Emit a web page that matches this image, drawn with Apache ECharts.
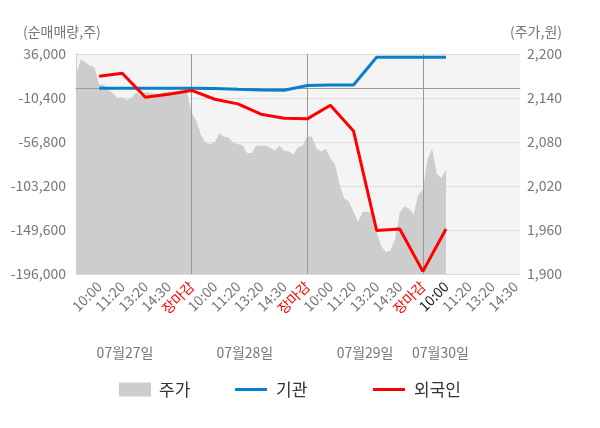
<!DOCTYPE html>
<html>
<head>
<meta charset="utf-8">
<script src="https://cdn.jsdelivr.net/npm/echarts@6/dist/echarts.min.js"></script>
<style>
html, body { margin: 0; padding: 0; background: #fff; }
#chart { width: 600px; height: 428px; }
</style>
</head>
<body>
<div id="chart"></div>
<script>
// 하루 5칸 시간 라벨
var timeLabels = ['10:00', '11:20', '13:20', '14:30', '장마감'];
var dayLabels = ['07월27일', '07월28일', '07월29일', '07월30일'];

// 주가 (원), 0.2칸 간격
var priceStep = 0.2;
var priceData = [
    2170, 2192, 2189, 2184, 2182,
    2158, 2158, 2151, 2146, 2140,
    2141, 2137, 2140, 2147, 2143,
    2148, 2147, 2146, 2145, 2148,
    2149, 2148, 2150, 2150, 2148,
    2120, 2109, 2090, 2079, 2077,
    2080, 2092, 2087, 2086, 2079,
    2077, 2076, 2065, 2065, 2075,
    2075, 2075, 2072, 2068, 2075,
    2068, 2067, 2063, 2073, 2075,
    2088, 2087, 2071, 2067, 2071,
    2057, 2050, 2022, 2003, 1999,
    1985, 1971, 1985, 1985, 1984,
    1958, 1938, 1930, 1932, 1948,
    1984, 1992, 1989, 1981, 2008,
    2015, 2056, 2071, 2037, 2031,
    2042
];

// 누적 순매매량 (주), 1칸부터
var instData = [-200, -200, -200, -200, -200, -300, -1200, -1900, -2200, 2800, 3200, 3300, 32500, 32500, 32500, 32500];
var foreignData = [12500, 15700, -9600, -6400, -2400, -11700, -16600, -27500, -31700, -32400, -18000, -45100, -150100, -148600, -193200, -148600];

function commas(v) {
    return String(v).replace(/\B(?=(\d{3})+(?!\d))/g, ',');
}

var chart = echarts.init(document.getElementById('chart'));
var option = {
    animation: false,
    textStyle: { fontFamily: 'Noto Sans CJK KR' },
    grid: {
        left: 76, right: 80, top: 54, bottom: 154,
        show: true, backgroundColor: '#f4f4f4', borderWidth: 0
    },
    // 축 단위
    graphic: [{
        type: 'text', left: 23, top: 25,
        style: { text: '(순매매량,주)', fill: '#777', fontSize: 14, fontFamily: 'Noto Sans CJK KR' }
    }, {
        type: 'text', right: 38, top: 25,
        style: { text: '(주가,원)', fill: '#777', fontSize: 14, fontFamily: 'Noto Sans CJK KR' }
    }],
    xAxis: [{
        type: 'value',
        min: 0, max: 19.2, interval: 1,
        axisLine: { lineStyle: { color: '#999' } },
        axisTick: { customValues: [0, 5, 10, 15], length: 5, lineStyle: { color: '#999' } },
        splitLine: { show: false },
        axisLabel: {
            rotate: 45, fontSize: 14, color: '#777', margin: 10,
            formatter: function(v) {
                if(v <= 0 || v % 1 != 0) return '';
                var t = timeLabels[(v - 1) % 5];
                if(t == '장마감') return '{c|' + t + '}';
                if(v == foreignData.length) return '{d|' + t + '}';
                return t;
            },
            rich: {
                c: { color: '#ff0000', fontSize: 14 },
                d: { color: '#222', fontSize: 14 }
            }
        }
    }, {
        type: 'value',
        min: 0, max: 19.2,
        position: 'bottom', offset: 64,
        axisLine: { show: false },
        axisTick: { show: false },
        splitLine: { show: false },
        axisLabel: {
            fontSize: 14, color: '#777', margin: 8,
            customValues: [2.12, 7.3, 12.5, 15.76],
            formatter: function(v) {
                var pos = [2.12, 7.3, 12.5, 15.76];
                return dayLabels[pos.indexOf(v)] || '';
            }
        }
    }],
    yAxis: [{
        type: 'value',
        min: -196000, max: 36000, interval: 46400,
        axisLine: { show: true, lineStyle: { color: '#999' } },
        axisTick: { show: false },
        splitLine: { lineStyle: { color: '#dcdcdc' } },
        axisLabel: { fontSize: 14, color: '#777', margin: 10, formatter: commas }
    }, {
        type: 'value', position: 'right',
        min: 1900, max: 2200, interval: 60,
        axisLine: { show: true, lineStyle: { color: '#ccc' } },
        axisTick: { show: false },
        splitLine: { show: false },
        axisLabel: { fontSize: 14, color: '#777', margin: 7, formatter: commas }
    }],
    legend: [{
        data: [{ name: '주가', icon: 'rect' }],
        left: 114, top: 376, itemWidth: 32, itemHeight: 14,
        textStyle: { fontSize: 17, color: '#333', padding: [0, 0, 0, 3] }
    }, {
        data: [{ name: '기관', icon: 'rect' }],
        left: 230, top: 376, itemWidth: 32, itemHeight: 3,
        textStyle: { fontSize: 17, color: '#333', padding: [0, 0, 0, 4] }
    }, {
        data: [{ name: '외국인', icon: 'rect' }],
        left: 368, top: 376, itemWidth: 32, itemHeight: 3,
        textStyle: { fontSize: 17, color: '#333', padding: [0, 0, 0, 4] }
    }],
    series: [{
        name: '주가',
        type: 'line',
        xAxisIndex: 0, yAxisIndex: 1,
        data: priceData.map(function(p, i) { return [i * priceStep, p]; }),
        showSymbol: false,
        color: '#cdcdcd',
        lineStyle: { width: 0 },
        areaStyle: { color: '#cdcdcd', origin: 'start', opacity: 1 },
        z: 1,
        markLine: {
            silent: true, symbol: 'none', z: 3,
            label: { show: false },
            lineStyle: { color: '#999', width: 1, type: 'solid' },
            data: [{ xAxis: 5 }, { xAxis: 10 }, { xAxis: 15 }]
        }
    }, {
        name: '기관',
        type: 'line',
        xAxisIndex: 0, yAxisIndex: 0,
        data: instData.map(function(v, i) { return [i + 1, v]; }),
        showSymbol: false,
        color: '#0a7fcb',
        lineStyle: { width: 3 },
        z: 10,
        markLine: {
            silent: true, symbol: 'none', z: 3,
            label: { show: false },
            lineStyle: { color: '#999', width: 1, type: 'solid' },
            data: [{ yAxis: 0 }]
        }
    }, {
        name: '외국인',
        type: 'line',
        xAxisIndex: 0, yAxisIndex: 0,
        data: foreignData.map(function(v, i) { return [i + 1, v]; }),
        showSymbol: false,
        color: '#ff0000',
        lineStyle: { width: 3 },
        z: 11
    }]
};
chart.setOption(option);
</script>
</body>
</html>
